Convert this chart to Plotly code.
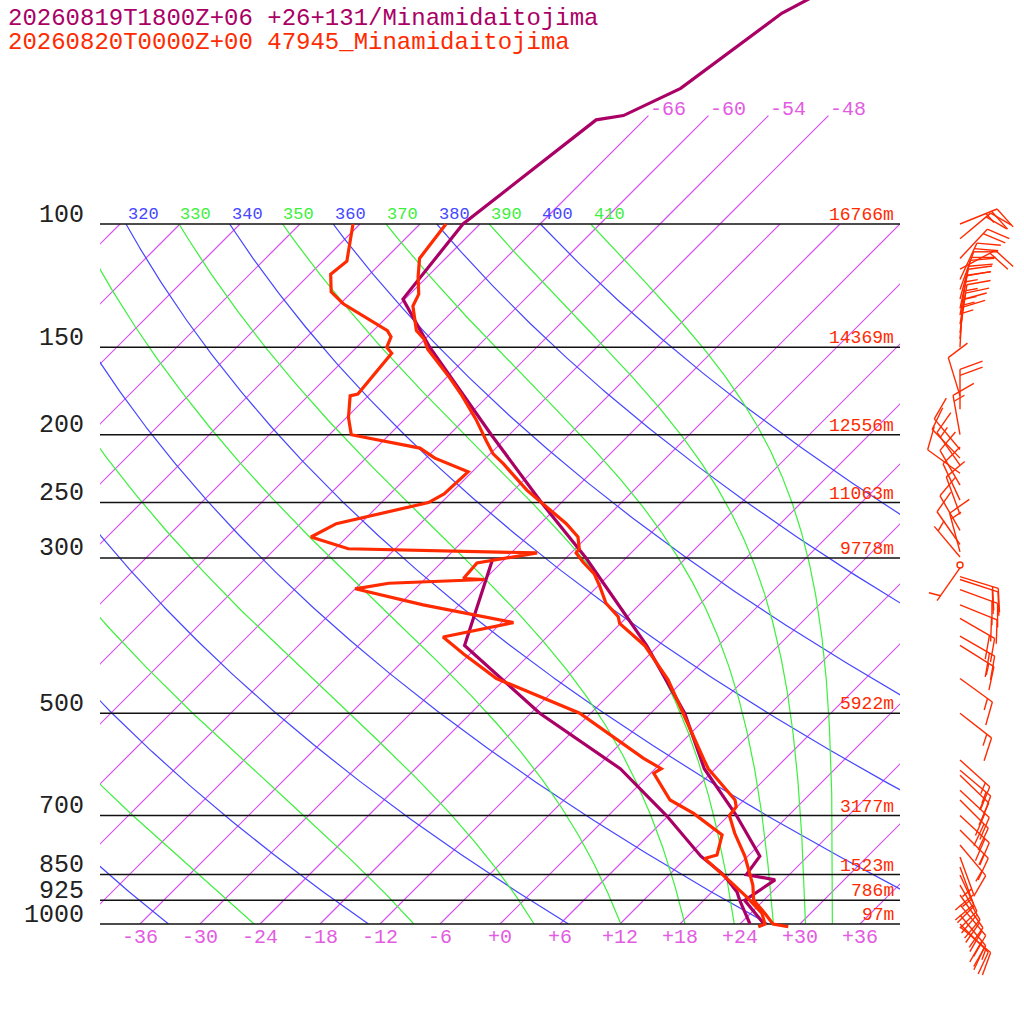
import numpy as np
import plotly.graph_objects as go

# ---------------- data ----------------
title_fc = "20260819T1800Z+06 +26+131/Minamidaitojima"
title_ob = "20260820T0000Z+00 47945_Minamidaitojima"

# forecast (purple) temperature / dewpoint
fc_t_p = [1000, 975, 950, 925, 865, 850, 800, 700, 600, 500, 400, 300, 250, 200,
          150, 128, 100, 71, 70, 64, 50, 30]
fc_t_T = [26.4, 25.0, 23.6, 22.1, 23.1, 19.7, 19.2, 12.8, 4.9, -2.6, -13.2, -28.0,
          -38.0, -49.8, -64.7, -72.2, -73.7, -70.8, -68.5, -65.5, -62.9, -49.0]
fc_td_p = [1000, 975, 950, 925, 900, 850, 800, 700, 600, 500, 400, 300]
fc_td_T = [25.0, 23.9, 22.8, 21.6, 20.5, 17.4, 13.3, 5.8, -3.5, -17.1, -31.4, -37.3]

# observed (red) temperature / dewpoint
ob_t_p = [1009, 1000, 965, 925, 880, 800, 742, 700, 680, 665, 600, 583, 448, 400,
          372, 364, 348, 330, 316, 304, 295, 291, 280, 268, 240, 227, 220, 213,
          204, 190, 176, 166, 151, 146, 142, 136, 131, 126, 119, 112, 100]
ob_t_T = [29.1, 27.3, 25.4, 23.0, 21.4, 17.7, 14.4, 12.1, 11.9, 11.1, 5.3, 4.0,
          -7.6, -13.4, -18.1, -18.9, -21.5, -23.7, -25.6, -27.9, -29.5, -29.6,
          -30.9, -33.4, -40.7, -43.9, -45.7, -47.7, -49.7, -52.9, -56.6, -59.6,
          -64.7, -66.1, -67.7, -69.2, -70.5, -71.1, -72.9, -74.6, -75.4]
ob_td_p = [1009, 1000, 965, 914, 870, 806, 797, 746, 695, 665, 609, 600, 580, 500,
           446, 411, 389, 371, 350, 332, 326, 322, 321, 305, 295, 291, 280, 268,
           250, 243, 226, 216, 209, 200, 189, 176, 175, 153, 150, 145, 142, 130,
           125, 118, 113, 100]
ob_td_T = [26.1, 26.5, 25.1, 21.9, 18.8, 13.9, 14.8, 13.3, 8.3, 4.6, 0.3, 0.6,
           -2.2, -13.1, -24.9, -30.7, -34.4, -28.8, -39.6, -48.0, -45.2, -36.0,
           -38.2, -38.4, -33.4, -52.7, -57.6, -56.4, -49.3, -48.6, -48.4, -53.1,
           -55.6, -63.8, -65.8, -67.8, -67.2, -67.9, -69.0, -69.6, -70.6, -77.7,
           -80.1, -81.9, -81.6, -84.7]

# observed winds (direction deg, speed kt)
wind_p = [100, 105, 112, 116, 120, 124, 128, 132, 135, 139, 143, 146, 150, 176,
          184, 200, 210, 216, 221, 227, 236, 248, 260, 274, 287, 294, 299, 307,
          310, 319, 322, 333, 350, 366, 388, 400, 446, 500, 583, 603, 613, 644,
          665, 700, 734, 771, 802, 829, 851, 880, 909, 939, 971, 1000, 1009]
wind_dir = [68, 50, 43, 62, 25, 20, 15, 12, 10, 10, 8, 5, 3, 343, 0, 350, 320, 316,
            325, 306, 330, 335, 340, 330, 325, 345, 320, 0, 215, 107, 108, 110, 112,
            120, 120, 122, 126, 128, 132, 130, 134, 133, 135, 133, 135, 140, 160,
            160, 155, 150, 145, 140, 140, 135, 130]
wind_spd = [25, 20, 20, 20, 20, 20, 20, 20, 15, 15, 15, 15, 15, 10, 20, 15, 10, 10,
            15, 10, 10, 10, 10, 10, 10, 15, 5, 0, 5, 20, 20, 20, 20, 20, 20, 15, 15,
            15, 15, 15, 15, 20, 20, 20, 15, 15, 15, 15, 20, 20, 20, 20, 20, 20, 15]

# isobars and standard heights
iso_p = [100, 150, 200, 250, 300, 500, 700, 850, 925, 1000]
iso_h = ["16766m", "14369m", "12556m", "11063m", "9778m", "5922m", "3177m",
         "1523m", "786m", "97m"]
isotherm_T = list(range(-108, 37, 6))
axis_T_labels = list(range(-36, 37, 6))
top_T_labels = [-66, -60, -54, -48]
theta_dry = list(range(240, 401, 20))
theta_e = list(range(250, 411, 20))

# ---------------- styles ----------------
FONT = "Liberation Mono"
C_FC = "rgb(170,0,102)"
C_OB = "rgb(255,42,0)"
C_ISOT = "rgb(214,78,242)"
C_ISOT_LBL = "rgb(226,92,226)"
C_DRY = "rgb(70,70,255)"
C_MOIST = "rgb(60,240,60)"
SKEW = 70.0          # skew in deg C per decade of pressure
TOP_EXT_P = 70       # isotherm extension above 100 hPa

def skx(T, p):
    return np.asarray(T, float) + SKEW * np.log10(1000.0 / np.asarray(p, float))

# pixel helpers (for barb glyph geometry only)
def px2data(xpx, ypx):
    return (xpx - 500.0) / 10.0, 1000.0 * 10 ** (-(924.0 - ypx) / 700.0)

def p2ypx(p):
    return 924.0 - 700.0 * np.log10(1000.0 / p)

fig = go.Figure()

# ---------------- background (clipped box axes x/y) ----------------
pp = np.logspace(3, 2, 400)

# isotherms
xs, ys = [], []
for T in isotherm_T:
    xs += [float(T), float(T) + SKEW, None]
    ys += [1000.0, 100.0, None]
fig.add_trace(go.Scatter(x=xs, y=ys, mode="lines",
                         line=dict(color=C_ISOT, width=1.2),
                         xaxis="x", yaxis="y", hoverinfo="skip"))

# dry adiabats
xs, ys = [], []
for th in theta_dry:
    T = th * (pp / 1000.0) ** 0.2857 - 273.15
    xs += list(skx(T, pp)) + [None]
    ys += list(pp) + [None]
fig.add_trace(go.Scatter(x=xs, y=ys, mode="lines", line=dict(color=C_DRY, width=1.2),
                         xaxis="x", yaxis="y", hoverinfo="skip"))

# moist (pseudo) adiabats by equivalent potential temperature
def theta_e_sat(Tc, p):
    Tk = Tc + 273.15
    es = 6.112 * np.exp(17.67 * Tc / (Tc + 243.5))
    r = 622.0 * es / (p - es)
    return Tk * (1000.0 / p) ** (0.2854 * (1 - 0.28e-3 * r)) * \
        np.exp((3.376 / Tk - 0.00254) * r * (1 + 0.81e-3 * r))

def moist_T(the, p):
    lo = np.full_like(p, -130.0)
    hi = np.minimum(the * (p / 1000.0) ** 0.2854 - 273.15, 45.0)
    for _ in range(60):
        mid = 0.5 * (lo + hi)
        f = theta_e_sat(mid, p) - the
        hi = np.where(f > 0, mid, hi)
        lo = np.where(f > 0, lo, mid)
    return 0.5 * (lo + hi)

xs, ys = [], []
for th in theta_e:
    T = moist_T(th, pp)
    xs += list(skx(T, pp)) + [None]
    ys += list(pp) + [None]
fig.add_trace(go.Scatter(x=xs, y=ys, mode="lines", line=dict(color=C_MOIST, width=1.2),
                         xaxis="x", yaxis="y", hoverinfo="skip"))

# ---------------- full-figure axes x2/y2 ----------------
# isotherm extension above 100 hPa
xs, ys = [], []
for T in top_T_labels:
    xs += [float(skx(T, 100)), float(skx(T, TOP_EXT_P)), None]
    ys += [100.0, float(TOP_EXT_P), None]
fig.add_trace(go.Scatter(x=xs, y=ys, mode="lines",
                         line=dict(color=C_ISOT, width=1.2),
                         xaxis="x2", yaxis="y2", hoverinfo="skip"))

# isobars
xs, ys = [], []
for p in iso_p:
    xs += [-40.0, 40.0, None]
    ys += [float(p), float(p), None]
fig.add_trace(go.Scatter(x=xs, y=ys, mode="lines",
                         line=dict(color="rgb(17,17,17)", width=1.5),
                         xaxis="x2", yaxis="y2", hoverinfo="skip"))

# soundings
for p, T, c in [(fc_t_p, fc_t_T, C_FC), (fc_td_p, fc_td_T, C_FC),
                (ob_t_p, ob_t_T, C_OB), (ob_td_p, ob_td_T, C_OB)]:
    fig.add_trace(go.Scatter(x=skx(T, p), y=p, mode="lines",
                             line=dict(color=c, width=3.2), xaxis="x2", yaxis="y2",
                             hoverinfo="skip"))

# wind barbs
BX, STAFF, FLEN, GAP, TILT = 960.0, 40.0, 24.0, 6.0, np.radians(20)
bx, by, calm_x, calm_y = [], [], [], []
for p, d, s in zip(wind_p, wind_dir, wind_spd):
    y0 = p2ypx(p)
    if s < 2.5:
        cx, cy = px2data(BX, y0)
        calm_x.append(cx); calm_y.append(cy)
        continue
    th = np.radians(d)
    dx, dy = np.sin(th), -np.cos(th)
    qx, qy = np.cos(th), np.sin(th)
    fx = qx * np.cos(TILT) + dx * np.sin(TILT)
    fy = qy * np.cos(TILT) + dy * np.sin(TILT)
    segs = [[(BX, y0), (BX + STAFF * dx, y0 + STAFF * dy)]]
    s5 = int(round(s / 5.0)) * 5
    n50, rem = divmod(s5, 50)
    n10, rem = divmod(rem, 10)
    n5 = rem // 5
    pos = STAFF
    for _ in range(n50):
        a = (BX + pos * dx, y0 + pos * dy)
        b = (a[0] + FLEN * fx, a[1] + FLEN * fy)
        c2 = (BX + (pos - GAP) * dx, y0 + (pos - GAP) * dy)
        segs.append([a, b, c2])
        pos -= GAP * 1.5
    for _ in range(n10):
        a = (BX + pos * dx, y0 + pos * dy)
        segs.append([a, (a[0] + FLEN * fx, a[1] + FLEN * fy)])
        pos -= GAP
    if n5:
        if pos == STAFF:
            pos -= GAP
        a = (BX + pos * dx, y0 + pos * dy)
        segs.append([a, (a[0] + 0.5 * FLEN * fx, a[1] + 0.5 * FLEN * fy)])
    for seg in segs:
        for (xp, yp) in seg:
            X, P = px2data(xp, yp)
            bx.append(X); by.append(P)
        bx.append(None); by.append(None)
fig.add_trace(go.Scatter(x=bx, y=by, mode="lines", line=dict(color=C_OB, width=1.4),
                         xaxis="x2", yaxis="y2", hoverinfo="skip"))
fig.add_trace(go.Scatter(x=calm_x, y=calm_y, mode="markers",
                         marker=dict(symbol="circle-open", size=6, color=C_OB,
                                     line=dict(width=1.4, color=C_OB)),
                         xaxis="x2", yaxis="y2", hoverinfo="skip"))

# ---------------- text ----------------
ann = []
ann.append(dict(text=title_fc, xref="paper", yref="paper", x=6 / 1024, y=1 - 18 / 1024,
                xanchor="left", yanchor="middle", showarrow=False,
                font=dict(family=FONT, size=24, color=C_FC)))
ann.append(dict(text=title_ob, xref="paper", yref="paper", x=6 / 1024, y=1 - 42 / 1024,
                xanchor="left", yanchor="middle", showarrow=False,
                font=dict(family=FONT, size=24, color=C_OB)))
for p, h in zip(iso_p, iso_h):
    ann.append(dict(text=str(p), xref="x2", yref="y2", x=-41.4, y=np.log10(p),
                    xanchor="right", yanchor="middle", yshift=9, showarrow=False,
                    font=dict(family=FONT, size=25, color="#222222")))
    ann.append(dict(text=h, xref="x2", yref="y2", x=39.6, y=np.log10(p),
                    xanchor="right", yanchor="middle", yshift=9, showarrow=False,
                    font=dict(family=FONT, size=18, color=C_OB)))
for T in axis_T_labels:
    ann.append(dict(text=f"{T:+d}", xref="x2", yref="y2", x=T, y=3.0,
                    xanchor="center", yanchor="middle", yshift=-13, showarrow=False,
                    font=dict(family=FONT, size=20, color=C_ISOT_LBL)))
for T in top_T_labels:
    ann.append(dict(text=f"{T:+d}", xref="x2", yref="y2",
                    x=float(skx(T, TOP_EXT_P)), y=np.log10(TOP_EXT_P),
                    xanchor="left", yanchor="middle", yshift=6, showarrow=False,
                    font=dict(family=FONT, size=20, color=C_ISOT_LBL)))
labels_theta = sorted([(t, C_DRY) for t in theta_dry] + [(t, C_MOIST) for t in theta_e])
for th, c in labels_theta:
    x100 = float(skx(th * 0.1 ** 0.2857 - 273.15, 100))
    if x100 < -40:
        continue
    ann.append(dict(text=str(th), xref="x2", yref="y2", x=x100, y=2.0,
                    xanchor="left", yanchor="middle", yshift=10, showarrow=False,
                    font=dict(family=FONT, size=17, color=c)))

fig.update_layout(
    width=1024, height=1024, margin=dict(l=0, r=0, t=0, b=0),
    paper_bgcolor="white", plot_bgcolor="rgba(0,0,0,0)", showlegend=False,
    xaxis=dict(domain=[100 / 1024, 900 / 1024], range=[-40, 40], visible=False,
               anchor="y", fixedrange=True),
    yaxis=dict(domain=[100 / 1024, 800 / 1024], type="log", range=[3, 2],
               visible=False, anchor="x", fixedrange=True),
    xaxis2=dict(domain=[0, 1], range=[-50, 52.4], visible=False, anchor="y2",
                fixedrange=True),
    yaxis2=dict(domain=[0, 1], type="log", range=[3 + 100 / 700, 3 - 924 / 700],
                visible=False, anchor="x2", fixedrange=True),
    annotations=ann,
)

fig.write_html("out.html", config={"displayModeBar": False, "staticPlot": True},
               post_script="document.body.style.margin='0px';"
                           "document.body.style.overflow='hidden';")
